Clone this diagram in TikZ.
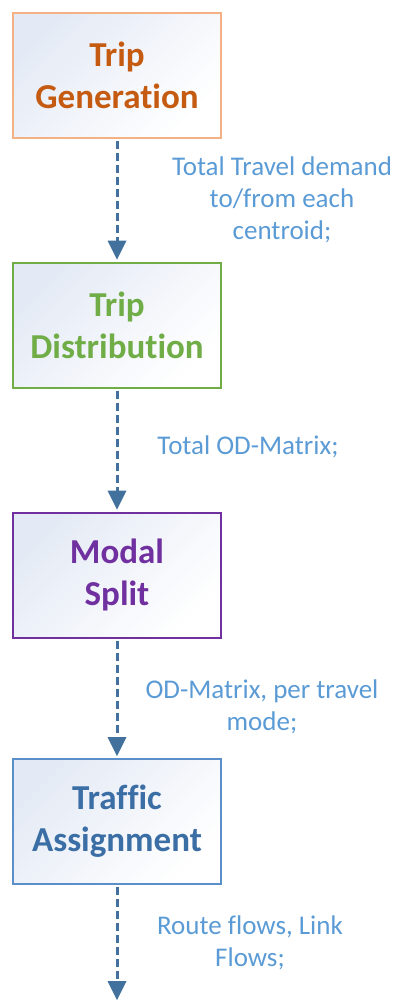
\documentclass[tikz,border=0pt]{standalone}
\usepackage{fontspec}
\setmainfont[Ligatures=NoCommon]{Carlito}
\usetikzlibrary{arrows.meta}

\definecolor{genborder}{HTML}{F4B183}
\definecolor{gentext}{HTML}{C55A11}
\definecolor{distcol}{HTML}{70AD47}
\definecolor{modalcol}{HTML}{7030A0}
\definecolor{assignborder}{HTML}{5B8FC9}
\definecolor{assigntext}{HTML}{3A6EA5}
\definecolor{flowcol}{HTML}{41719C}
\definecolor{notecol}{HTML}{5B9BD5}
\definecolor{boxtint}{HTML}{E4EAF5}

\tikzset{
  stagebox/.style={draw, line width=2pt, minimum width=208pt, minimum height=125pt,
    left color=boxtint, right color=white, shading angle=45,
    align=center, font=\fontsize{35}{42}\selectfont\bfseries, inner sep=0pt},
  flow/.style={draw=flowcol, line width=3pt, dash pattern=on 8pt off 4pt,
    -{Triangle[width=19pt,length=19pt,line width=0pt]}},
  note/.style={text=notecol, align=center, font=\fontsize{27}{32}\selectfont, inner sep=0pt}
}

\begin{document}
\begin{tikzpicture}[x=1pt,y=1pt]
  \useasboundingbox (0,0) rectangle (395,-1001);

  % stages of the four-step model
  \node[stagebox, draw=genborder, text=gentext] (gen) at (117,-75.5) {Trip\\Generation};
  \node[stagebox, draw=distcol, text=distcol] (dist) at (117,-325) {Trip\\Distribution};
  \node[stagebox, draw=modalcol, text=modalcol] (modal) at (117,-575) {Modal\\Split};
  \node[stagebox, draw=assignborder, text=assigntext] (assign) at (117,-821.5) {Traffic\\Assignment};
  \coordinate (out) at (117,-1000);

  % data passed between stages
  \draw[flow] ([yshift=-2pt]gen.south) -- ([yshift=2pt]dist.north);
  \draw[flow] ([yshift=-2pt]dist.south) -- ([yshift=2pt]modal.north);
  \draw[flow] ([yshift=-2pt]modal.south) -- ([yshift=2pt]assign.north);
  \draw[flow] ([yshift=-2pt]assign.south) -- (out);

  \node[note] (n1) at (282,-200) {Total Travel demand\\to/from each\\centroid;};
  \node[note] (n2) at (248,-447) {Total OD-Matrix;};
  \node[note] (n3) at (262,-707) {OD-Matrix, per travel\\mode;};
  \node[note] (n4) at (250,-943) {Route flows, Link\\Flows;};
\end{tikzpicture}
\end{document}
